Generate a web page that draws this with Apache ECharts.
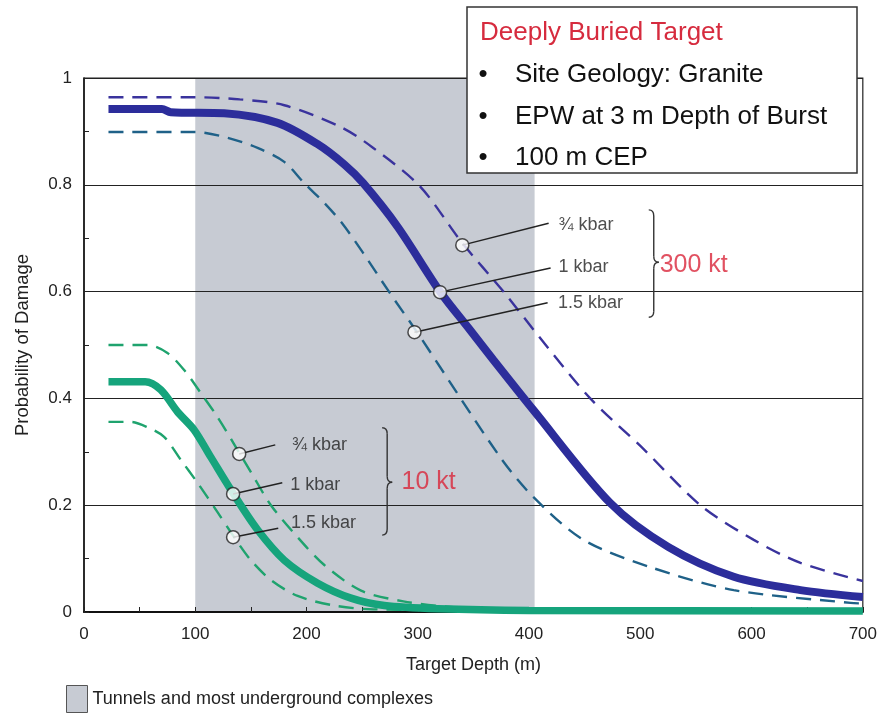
<!DOCTYPE html>
<html>
<head>
<meta charset="utf-8">
<script src="https://cdn.jsdelivr.net/npm/echarts@6/dist/echarts.min.js"></script>
<style>html,body{margin:0;padding:0;background:#fff;}#chart{width:880px;height:715px;}</style>
</head>
<body>
<div id="chart"></div>
<script>
// ---------- data (target depth in m, probability of damage) ----------
const xTicks = [0, 100, 200, 300, 400, 500, 600, 700];
const yTicks = [0, 0.2, 0.4, 0.6, 0.8, 1];
const tunnelsRange = [100, 405];
const tunnelsLabel = 'Tunnels and most underground complexes';

// 300 kt
const kt300_075kbar = [[22,0.964],[100,0.964],[140,0.960],[180,0.949],[231,0.908],[260,0.869],[302,0.797],[340,0.691],[377,0.60],[415,0.50],[455,0.40],[503,0.305],[554,0.20],[602,0.135],[644,0.092],[700,0.058]];
const kt300_1kbar = [[22,0.942],[70,0.942],[78,0.936],[126,0.934],[174,0.916],[210,0.876],[234,0.838],[251,0.803],[282,0.721],[320,0.60],[347,0.528],[368,0.472],[404,0.378],[473,0.204],[525,0.122],[584,0.066],[644,0.041],[700,0.028]];
const kt300_15kbar = [[22,0.899],[100,0.899],[129,0.888],[156,0.869],[180,0.843],[198,0.803],[216,0.766],[232,0.728],[251,0.672],[275,0.597],[300,0.522],[374,0.29],[404,0.215],[449,0.135],[509,0.084],[584,0.041],[689,0.017],[700,0.016]];

// 10 kt
const kt10_075kbar = [[22,0.50],[57,0.50],[75,0.485],[90,0.453],[105,0.41],[120,0.365],[139,0.30],[150,0.262],[168,0.20],[192,0.14],[216,0.088],[249,0.04],[287,0.02],[332,0.009],[400,0.004],[700,0.002]];
const kt10_1kbar = [[22,0.431],[55,0.431],[69,0.416],[84,0.375],[99,0.341],[114,0.29],[135,0.219],[156,0.154],[180,0.097],[210,0.054],[240,0.026],[270,0.012],[318,0.006],[400,0.003],[700,0.002]];
const kt10_15kbar = [[22,0.356],[42,0.356],[57,0.346],[72,0.328],[87,0.285],[102,0.242],[120,0.187],[135,0.14],[150,0.097],[168,0.06],[192,0.03],[225,0.012],[260,0.005],[400,0.003],[700,0.002]];

// annotation markers (on curves)
const markers300 = [[340,0.687],[320,0.599],[297,0.524]];
const markers10 = [[139.5,0.296],[134,0.221],[134,0.14]];
const kbarLabels = ['\u00BE kbar', '1 kbar', '1.5 kbar'];
// leader-line ends and label anchors (data coordinates)
const leaderEnds300 = [[417.6,0.728],[419.4,0.644],[416.7,0.579]];
const labelAnchors300 = [[426,0.725],[426,0.646],[425.5,0.579]];
const leaderEnds10 = [[171.9,0.313],[178.2,0.242],[174.6,0.157]];
const labelAnchors10 = [[186.5,0.313],[185,0.238],[185.5,0.167]];
// braces: [x, yTop, yBottom, yTip]
const braces = [[507.6,0.753,0.552,0.655],[268,0.345,0.144,0.243]];
const yieldLabels = [{name:'300 kt', value:[517,0.65]},{name:'10 kt', value:[285,0.243]}];

// ---------- chart ----------
const FONT = "'Liberation Sans', Arial, sans-serif";
const chart = echarts.init(document.getElementById('chart'), null, {renderer:'canvas'});

function curve(name, data, color, width, dashed) {
  return {
    name: name, type: 'line', data: data, showSymbol: false, symbol: 'none',
    smooth: 0.3, z: 5, silent: true,
    lineStyle: {color: color, width: width, type: dashed ? [15, 9] : 'solid', cap: 'butt'}
  };
}

const leaderData = [];
markers300.forEach((m, i) => leaderData.push({coords: [m, leaderEnds300[i]]}));
markers10.forEach((m, i) => leaderData.push({coords: [m, leaderEnds10[i]]}));
const labelData = [];
labelAnchors300.forEach((p, i) => labelData.push({name: kbarLabels[i], value: p}));
labelAnchors10.forEach((p, i) => labelData.push({name: kbarLabels[i], value: p}));

const boxTextStyle = {fill: '#111', font: '26px ' + FONT, textVerticalAlign: 'middle'};
function boxText(x, y, text, extra) {
  return {type: 'text', z: 101, style: Object.assign({x: x, y: y, text: text}, boxTextStyle, extra || {})};
}

const option = {
  animation: false,
  textStyle: {fontFamily: FONT},
  grid: {left: 84, right: 16, top: 78, bottom: 103, show: true, borderColor: '#222', borderWidth: 1.2, backgroundColor: 'transparent', z: 2},
  legend: {
    left: 61, top: 680, itemWidth: 21, itemHeight: 27, selectedMode: false,
    textStyle: {fontSize: 18, color: '#222', fontFamily: FONT},
    data: [{name: tunnelsLabel, icon: 'rect', itemStyle: {color: '#c7cbd3', borderColor: '#555', borderWidth: 1}}]
  },
  xAxis: {
    type: 'value', min: xTicks[0], max: xTicks[xTicks.length - 1], interval: 100, z: 3,
    axisLine: {show: true, onZero: false, lineStyle: {color: '#111', width: 2}},
    axisTick: {show: true, inside: true, length: 5, lineStyle: {color: '#222'}},
    minorTick: {show: true, splitNumber: 2, length: 5, lineStyle: {color: '#222'}},
    splitLine: {show: false},
    axisLabel: {fontSize: 17, color: '#222', margin: 14, fontFamily: FONT},
    name: 'Target Depth (m)', nameLocation: 'middle', nameGap: 44,
    nameTextStyle: {fontSize: 18, color: '#222', fontFamily: FONT}
  },
  yAxis: {
    type: 'value', min: yTicks[0], max: yTicks[yTicks.length - 1], interval: 0.2, z: 3,
    axisLine: {show: true, lineStyle: {color: '#111', width: 1.5}},
    axisTick: {show: true, inside: true, length: 5, lineStyle: {color: '#222'}},
    minorTick: {show: true, splitNumber: 2, length: 5, lineStyle: {color: '#222'}},
    splitLine: {show: true, lineStyle: {color: '#222', width: 1.2}},
    axisLabel: {fontSize: 17, color: '#222', margin: 12, fontFamily: FONT},
    name: 'Probability of Damage', nameLocation: 'middle', nameGap: 52,
    nameTextStyle: {fontSize: 18.5, color: '#222', fontFamily: FONT}
  },
  series: [
    {
      name: tunnelsLabel, type: 'line', data: [], z: 1, itemStyle: {color: '#c7cbd3'},
      markArea: {silent: true, itemStyle: {color: '#c7cbd3'}, data: [[{xAxis: tunnelsRange[0]}, {xAxis: tunnelsRange[1]}]]}
    },
    curve('300 kt 1.5 kbar', kt300_15kbar, '#1f6188', 2.4, true),
    curve('300 kt 0.75 kbar', kt300_075kbar, '#3a339d', 2.4, true),
    curve('300 kt 1 kbar', kt300_1kbar, '#2c2d9b', 8, false),
    curve('10 kt 1.5 kbar', kt10_15kbar, '#1fa36e', 2.4, true),
    curve('10 kt 0.75 kbar', kt10_075kbar, '#1fa36e', 2.4, true),
    curve('10 kt 1 kbar', kt10_1kbar, '#16a47c', 7.5, false),
    {
      type: 'lines', coordinateSystem: 'cartesian2d', z: 8, silent: true,
      lineStyle: {color: '#222', width: 1.5, opacity: 1}, data: leaderData
    },
    {
      type: 'scatter', z: 10, silent: true, symbol: 'circle', symbolSize: 13,
      itemStyle: {color: '#fff', borderColor: '#222', borderWidth: 1.5},
      data: markers300.concat(markers10)
    },
    {
      type: 'scatter', z: 10, silent: true, symbolSize: 1, itemStyle: {color: 'transparent'},
      label: {show: true, position: 'right', distance: 0, formatter: '{b}', fontSize: 18, color: '#222', fontFamily: FONT},
      data: labelData
    },
    {
      type: 'scatter', z: 10, silent: true, symbolSize: 1, itemStyle: {color: 'transparent'},
      label: {show: true, position: 'right', distance: 0, formatter: '{b}', fontSize: 25, color: '#d9263a', fontFamily: FONT},
      data: yieldLabels
    },
    {
      type: 'custom', z: 9, silent: true, data: braces, encode: {x: 0, y: 1},
      renderItem: function (params, api) {
        const t = api.coord([api.value(0), api.value(1)]);
        const b = api.coord([api.value(0), api.value(2)]);
        const m = api.coord([api.value(0), api.value(3)]);
        const x0 = t[0], xm = x0 + 5, x1 = x0 + 10, r = 6;
        const st = {stroke: '#333', lineWidth: 1.4, fill: null};
        return {type: 'group', children: [
          {type: 'bezierCurve', shape: {x1: x0, y1: t[1], cpx1: xm, cpy1: t[1], x2: xm, y2: t[1] + r}, style: st},
          {type: 'line', shape: {x1: xm, y1: t[1] + r, x2: xm, y2: m[1] - r}, style: st},
          {type: 'bezierCurve', shape: {x1: xm, y1: m[1] - r, cpx1: xm, cpy1: m[1], x2: x1, y2: m[1]}, style: st},
          {type: 'bezierCurve', shape: {x1: x1, y1: m[1], cpx1: xm, cpy1: m[1], x2: xm, y2: m[1] + r}, style: st},
          {type: 'line', shape: {x1: xm, y1: m[1] + r, x2: xm, y2: b[1] - r}, style: st},
          {type: 'bezierCurve', shape: {x1: xm, y1: b[1] - r, cpx1: xm, cpy1: b[1], x2: x0, y2: b[1]}, style: st}
        ]};
      }
    }
  ],
  graphic: [
    {type: 'rect', z: 100, shape: {x: 467, y: 7, width: 390, height: 166}, style: {fill: '#fff', stroke: '#333', lineWidth: 1.5}},
    boxText(480, 33, 'Deeply Buried Target', {fill: '#d62b3e'}),
    boxText(483, 75, '\u2022', {textAlign: 'center'}),
    boxText(515, 75, 'Site Geology: Granite'),
    boxText(483, 117, '\u2022', {textAlign: 'center'}),
    boxText(515, 117, 'EPW at 3 m Depth of Burst'),
    boxText(483, 158, '\u2022', {textAlign: 'center'}),
    boxText(515, 158, '100 m CEP')
  ]
};
chart.setOption(option);
</script>
</body>
</html>
